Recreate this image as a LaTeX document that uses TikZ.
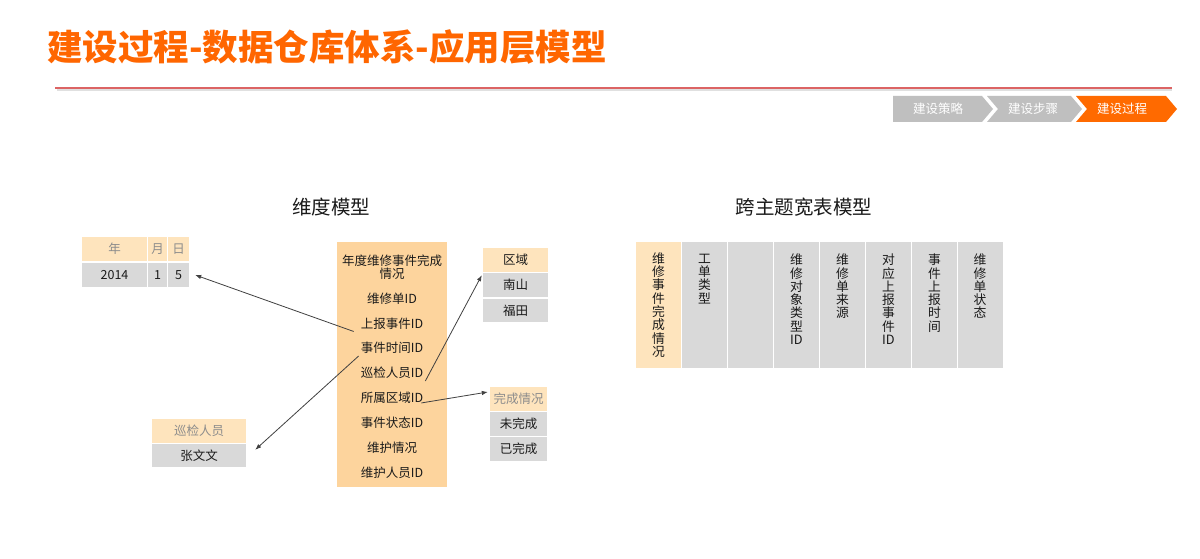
\documentclass[tikz,border=0pt]{standalone}
\usepackage{fontspec}
\setmainfont{Noto Sans CJK SC}
\usetikzlibrary{arrows.meta}
\definecolor{titleorange}{HTML}{FF6600}
\definecolor{crumborange}{HTML}{FF6A00}
\definecolor{crumbgray}{HTML}{BFBFBF}
\definecolor{linered}{HTML}{DC6464}
\definecolor{hdrpeach}{HTML}{FEE4BD}
\definecolor{factpeach}{HTML}{FDD49D}
\definecolor{cellgray}{HTML}{D9D9D9}
\definecolor{hdrgray}{HTML}{8C8C8C}
\definecolor{txt}{HTML}{1A1A1A}
\definecolor{arrgray}{HTML}{404040}
\begin{document}
\begin{tikzpicture}[x=1pt,y=-1pt,
  every node/.style={font=\fontsize{12.5}{13.3}\selectfont, text=txt},
  hdr/.style={fill=hdrpeach, text=hdrgray, minimum height=24pt, inner sep=0pt},
  dat/.style={fill=cellgray, minimum height=24pt, inner sep=0pt},
  item/.style={inner sep=2pt},
  wcell/.style={fill=cellgray, minimum width=45pt, minimum height=126pt, inner sep=0pt},
  vtext/.style={align=center, inner sep=0pt, font=\fontsize{12.8}{13.3}\selectfont},
  crumb/.style={text=white, inner sep=0pt, font=\fontsize{12.5}{13}\selectfont},
  arr/.style={draw=arrgray, line width=0.8pt, -{Latex[length=6pt,width=4.5pt]}}
]
\useasboundingbox (0,0) rectangle (1200,559);
\fill[white] (0,0) rectangle (1200,559);

% title
\node[anchor=west, inner sep=0pt, text=titleorange,
      font=\fontsize{35.5}{38}\selectfont\bfseries] (title) at (47,47)
      {建设过程-数据仓库体系-应用层模型};
\draw[line width=2pt, draw=black!12] (57,90.5) -- (1172,90.5);
\draw[line width=1.2pt, draw=linered] (55,88) -- (1172,88);

% breadcrumb
\fill[crumbgray] (893,96) -- (982,96) -- (993,109) -- (982,122) -- (893,122) -- cycle;
\fill[crumbgray] (987,96) -- (1071,96) -- (1082,109) -- (1071,122) -- (987,122) -- (998,109) -- cycle;
\fill[crumborange] (1076,96) -- (1166,96) -- (1177,109) -- (1166,122) -- (1076,122) -- (1087,109) -- cycle;
\node[crumb] (b1) at (938,109) {建设策略};
\node[crumb] (b2) at (1033,109) {建设步骤};
\node[crumb] (b3) at (1122,109) {建设过程};

% headings
\node[font=\fontsize{19.5}{21}\selectfont] (h1) at (331,207) {维度模型};
\node[font=\fontsize{19.5}{21}\selectfont] (h2) at (804,207) {跨主题宽表模型};

% date table
\node[hdr, minimum width=65pt] (yh) at (114.5,249) {年};
\node[hdr, minimum width=19pt] (mh) at (157.5,249) {月};
\node[hdr, minimum width=21pt] (dh) at (178.5,249) {日};
\node[dat, minimum width=65pt] (yv) at (114.5,275) {2014};
\node[dat, minimum width=19pt] (mv) at (157.5,275) {1};
\node[dat, minimum width=21pt] (dv) at (178.5,275) {5};

% inspector table
\node[hdr, minimum width=94pt] (p1) at (199,431) {巡检人员};
\node[dat, minimum width=94pt, minimum height=23pt] (p2) at (199,455.5) {张文文};

% region table
\node[hdr, text=txt, minimum width=65pt] (r1) at (515.5,260) {区域};
\node[dat, minimum width=65pt] (r2) at (515.5,285) {南山};
\node[dat, minimum width=65pt, minimum height=23pt] (r3) at (515.5,310.5) {福田};

% completion table
\node[hdr, minimum width=57pt] (c1) at (518.5,399) {完成情况};
\node[dat, minimum width=57pt] (c2) at (518.5,424) {未完成};
\node[dat, minimum width=57pt] (c3) at (518.5,449) {已完成};

% fact table
\node[fill=factpeach, minimum width=110pt, minimum height=245pt, inner sep=0pt] (fact) at (392,364.5) {};
\node[item, align=center, font=\fontsize{12.5}{12.5}\selectfont] (f0) at (392,267) {年度维修事件完成\\情况};
\node[item] (f1) at (392,299) {维修单ID};
\node[item] (f2) at (392,323.5) {上报事件ID};
\node[item] (f3) at (392,348) {事件时间ID};
\node[item] (f4) at (392,373) {巡检人员ID};
\node[item] (f5) at (392,398) {所属区域ID};
\node[item] (f6) at (392,423) {事件状态ID};
\node[item] (f7) at (392,448) {维护情况};
\node[item] (f8) at (392,473) {维护人员ID};

% connectors
\draw[arr] ([xshift=-5pt]f2.south west) -- ([xshift=6pt]dv.east);
\draw[arr] (f3.south west) -- ([shift={(9pt,-6pt)}]p2.north east);
\draw[arr] (f4.south east) -- ([shift={(-1pt,-3pt)}]r1.south west);
\draw[arr] ([shift={(-4pt,3pt)}]f5.south east) -- ([shift={(-2pt,7pt)}]c1.west);

% wide table
\node[wcell, fill=hdrpeach] (w1) at (658.5,305) {};
\node[wcell] (w2) at (704.5,305) {};
\node[wcell] (w3) at (750.5,305) {};
\node[wcell] (w4) at (796.5,305) {};
\node[wcell] (w5) at (842.5,305) {};
\node[wcell] (w6) at (888.5,305) {};
\node[wcell] (w7) at (934.5,305) {};
\node[wcell] (w8) at (980,305) {};
\node[vtext] (t1) at (w1.center) {维\\修\\事\\件\\完\\成\\情\\况};
\node[vtext, anchor=north] (t2) at ([yshift=-12pt]w2.north) {工\\单\\类\\型};
\node[vtext, anchor=north] (t4) at ([yshift=-12pt]w4.north) {维\\修\\对\\象\\类\\型\\ID};
\node[vtext, anchor=north] (t5) at ([yshift=-12pt]w5.north) {维\\修\\单\\来\\源};
\node[vtext, anchor=north] (t6) at ([yshift=-12pt]w6.north) {对\\应\\上\\报\\事\\件\\ID};
\node[vtext, anchor=north] (t7) at ([yshift=-12pt]w7.north) {事\\件\\上\\报\\时\\间};
\node[vtext, anchor=north] (t8) at ([yshift=-12pt]w8.north) {维\\修\\单\\状\\态};
\end{tikzpicture}
\end{document}
